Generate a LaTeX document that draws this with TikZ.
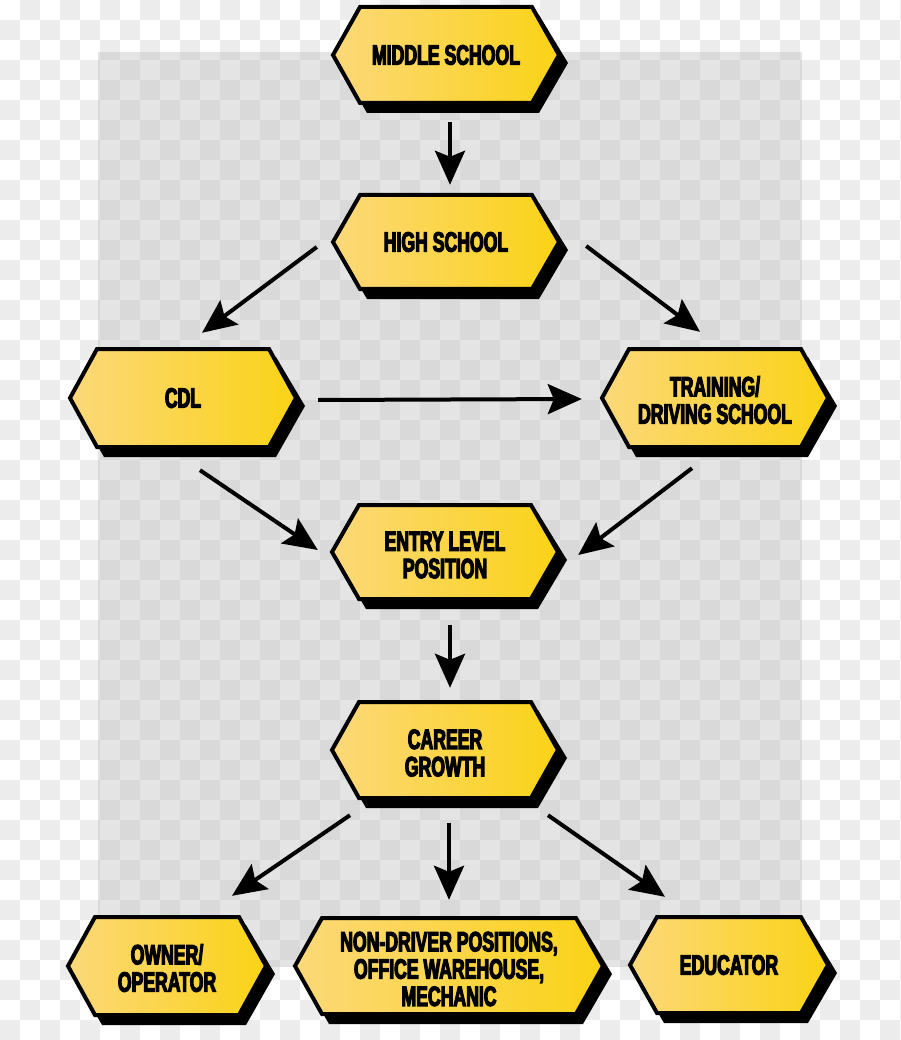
\documentclass[tikz,border=0pt]{standalone}
\usepackage{fontspec}
\usetikzlibrary{calc,arrows.meta}
\newfontfamily\hexfont[FakeStretch=0.63,FakeBold=4]{Liberation Sans}
\definecolor{chkgray}{RGB}{236,236,236}
\definecolor{ovl}{RGB}{191,192,195}
\definecolor{yelA}{RGB}{252,216,122}
\definecolor{yelB}{RGB}{250,211,22}
\tikzset{
  hexline/.style={draw=black,line width=4pt,line join=miter,left color=yelA,right color=yelB},
  hexshadow/.style={fill=black},
  hextext/.style={rectangle,inner sep=0pt,align=center,text=black,
    font=\hexfont\bfseries\fontsize{28}{27.3}\selectfont},
  arr/.style={draw=black,line width=4pt,-{Stealth[length=34pt,width=30pt,inset=6pt]}}
}
% [#1 text options] #2 name, #3 cx, #4 cy, #5 outer half width, #6 outer half height, #7 text
\newcommand\hexbox[7][]{%
  \pgfmathsetmacro\hxa{#3-#5+2}\pgfmathsetmacro\hxb{#3-#5+29}%
  \pgfmathsetmacro\hxc{#3+#5-29}\pgfmathsetmacro\hxd{#3+#5-2}%
  \pgfmathsetmacro\hyt{#4-#6+2}\pgfmathsetmacro\hyb{#4+#6-2}%
  \fill[hexshadow,shift={(7,8)}] (\hxa-2,#4) -- (\hxb,\hyt) -- (\hxc,\hyt) -- (\hxd+2,#4) -- (\hxc,\hyb+2) -- (\hxb,\hyb+2) -- cycle;
  \path[hexline] (\hxa,#4) -- (\hxb,\hyt) -- (\hxc,\hyt) -- (\hxd,#4) -- (\hxc,\hyb) -- (\hxb,\hyb) -- cycle;
  \node[hextext,minimum width={2*#5},minimum height={2*#6}] (#2) at (#3,#4) {};
  \node[hextext,#1] at (#3,#4) {#7};
}
\begin{document}
\begin{tikzpicture}[x=1pt,y=-1pt]
\useasboundingbox (0,0) rectangle (900,1040);
% checkerboard background
\fill[white] (0,0) rectangle (900,1040);
\foreach \i in {0,40,...,880}{
  \foreach \j in {0,40,...,1000}{
    \fill[chkgray] (\i+20,\j) rectangle (\i+40,\j+20);
    \fill[chkgray] (\i,\j+20) rectangle (\i+20,\j+40);
  }
}
\fill[ovl,opacity=0.42] (98,52) rectangle (802,967);
% boxes
\hexbox{ms}{446}{55}{115}{50}{MIDDLE SCHOOL}
\hexbox{hs}{446}{242}{115}{49}{HIGH SCHOOL}
\hexbox{cdl}{183}{398}{115}{51}{CDL}
\hexbox[yshift=-2pt]{tr}{715}{398}{115}{51}{TRAINING/\\DRIVING SCHOOL}
\hexbox[yshift=-3pt]{el}{445}{552}{115}{49}{ENTRY LEVEL\\POSITION}
\hexbox[yshift=-3pt]{cg}{445}{750}{115}{50}{CAREER\\GROWTH}
\hexbox[yshift=-2pt]{oo}{167}{966}{101}{51}{OWNER/\\OPERATOR}
\hexbox[yshift=-3pt]{nd}{449}{966}{156}{50}{NON-DRIVER POSITIONS,\\OFFICE WAREHOUSE,\\MECHANIC}
\hexbox{ed}{729}{965}{101}{50}{EDUCATOR}
% arrows
\draw[arr] ($(ms.south)+(4,17)$) -- ($(hs.north)+(4,-8)$);
\draw[arr] ($(hs.west)+(-14,5)$) -- ($(cdl.north)+(19,-14)$);
\draw[arr] ($(hs.east)+(25,4)$) -- ($(tr.north)+(-15,-15)$);
\draw[arr] ($(cdl.east)+(20,2)$) -- ($(tr.west)+(-18,1)$);
\draw[arr] ($(cdl.south)+(17,21)$) -- ($(el.west)+(-12,-2)$);
\draw[arr] ($(tr.south)+(-23,19)$) -- ($(el.east)+(18,3)$);
\draw[arr] ($(el.south)+(5,24)$) -- ($(cg.north)+(5,-12)$);
\draw[arr] ($(cg.south)+(-95,15)$) -- ($(oo.north)+(65,-19)$);
\draw[arr] ($(cg.south)+(4,23)$) -- ($(nd.north)+(0,-16)$);
\draw[arr] ($(cg.south)+(103,15)$) -- ($(ed.north)+(-64,-18)$);
\end{tikzpicture}
\end{document}
